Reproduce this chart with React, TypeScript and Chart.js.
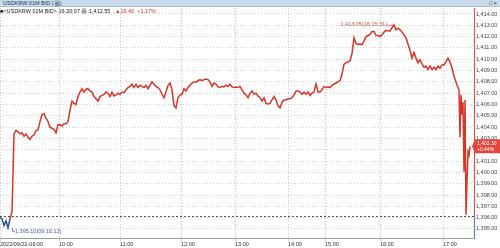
import React, { useEffect, useRef } from "react";
import { Chart, registerables } from "chart.js";

Chart.register(...registerables);

// ---- data ----
// prices sampled every 2 tick-steps from the session open
const BODY_PRICES = [
  1396.0, 1395.9, 1395.3, 1395.7, 1395.1, 1395.9, 1396.5, 1403.4, 1403.7, 1403.6,
  1403.4, 1403.5, 1403.2, 1403.4, 1403.1, 1402.9, 1403.2, 1403.3, 1403.7, 1403.75,
  1404.5, 1405.1, 1405.2, 1404.8, 1404.5, 1404.0, 1403.9, 1403.8, 1403.5, 1404.2,
  1404.2, 1404.1, 1404.3, 1404.3, 1404.5, 1405.5, 1406.3, 1406.1, 1406.0, 1406.7,
  1407.1, 1407.4, 1407.1, 1407.35, 1407.4, 1407.2, 1407.1, 1406.7, 1406.5, 1406.3,
  1406.7, 1406.8, 1406.9, 1407.1, 1407.0, 1406.7, 1407.1, 1406.75, 1406.85, 1407.0,
  1406.9, 1407.1, 1407.05, 1407.3, 1407.5, 1407.6, 1407.8, 1407.5, 1407.8, 1407.5,
  1407.7, 1407.6, 1407.5, 1407.7, 1407.4, 1407.7, 1408.0, 1407.8, 1407.6, 1407.5,
  1407.3, 1406.9, 1406.6, 1407.1, 1407.7, 1407.9, 1407.3, 1405.9, 1405.7, 1406.6,
  1406.85, 1406.9, 1407.4, 1407.2, 1407.5, 1407.7, 1407.9, 1408.0, 1408.0, 1408.1,
  1408.2, 1408.1, 1408.2, 1408.25, 1408.2, 1408.0, 1407.6, 1407.9, 1407.8, 1407.55,
  1407.5, 1407.6, 1407.55, 1407.7, 1407.6, 1407.8, 1407.55, 1407.5, 1407.55, 1407.5,
  1407.6, 1407.3, 1407.0, 1406.85, 1406.6, 1407.0, 1407.2, 1406.9, 1407.0, 1406.75,
  1406.6, 1406.3, 1406.6, 1406.1, 1406.05, 1406.1, 1406.4, 1406.7, 1406.4, 1405.9,
  1405.7, 1406.2, 1406.4, 1406.4, 1406.5, 1406.5, 1406.6, 1406.85, 1407.2, 1407.2,
  1407.1, 1406.9, 1407.1, 1406.9, 1407.1, 1406.8, 1407.0, 1407.1, 1407.8, 1407.1,
  1407.1, 1407.3, 1407.6, 1407.5, 1407.55, 1407.5, 1407.7, 1407.8, 1407.9, 1408.0,
  1408.1, 1408.7, 1409.55, 1409.7, 1409.75, 1409.85, 1410.5, 1411.9, 1411.4, 1411.3,
  1411.35, 1411.3, 1411.6, 1412.0, 1412.1, 1412.2, 1412.45, 1412.45, 1412.1, 1412.1,
  1412.0, 1412.15, 1412.4, 1412.55, 1412.5, 1412.5, 1412.8, 1413.05, 1412.6, 1412.75,
  1412.6, 1412.4, 1412.15, 1411.9, 1411.35, 1410.8, 1410.1, 1410.6, 1410.1, 1409.7,
  1409.95, 1409.6, 1409.3, 1409.4, 1409.1, 1409.4, 1409.1, 1409.3, 1409.1, 1409.4,
  1409.2, 1409.5, 1409.5, 1409.8, 1410.1, 1409.75, 1409.2, 1408.5,
];
const BODY_STEP = 2;
// last, very volatile stretch: one value per tick-step
const TAIL_PRICES = [
  1408.0, 1407.7, 1407.5, 1407.3, 1403.1, 1406.85, 1405.1, 1406.2, 1400.05, 1406.4,
  1396.25, 1399.2, 1401.8, 1401.55, 1402.3,
];
const AXIS_END = 474;

const TICK_POS = [0, 59, 120, 181, 235, 288, 325, 380, 443];
const TICK_LABELS = ["2022/09/22-09:00", "10:00", "11:00", "12:00", "13:00", "14:00", "15:00", "16:00", "17:00"];
const Y_TICKS = [1395, 1396, 1397, 1398, 1399, 1400, 1401, 1402, 1403, 1404, 1405, 1406, 1407, 1408, 1409, 1410, 1411, 1412, 1413, 1414];
const Y_MIN = 1394.2;
const Y_MAX = 1414.53;

const PREV_CLOSE = 1396.15;
const LAST_PRICE = 1402.3;
const LAST_PCT = "+0.44%";
const HIGH_PRICE = 1413.05;
const HIGH_TIME = "16:15:31";
const LOW_PRICE = 1395.1;
const LOW_TIME = "09:16:13";

const RED = "#da3429";
const BLUE = "#2d4f9c";
const FONT = '"Liberation Sans", Arial, sans-serif';

const fmt = (v: number) =>
  v.toLocaleString("en-US", { minimumFractionDigits: 2, maximumFractionDigits: 2 });

function buildPoints() {
  const pts: { x: number; y: number }[] = [];
  BODY_PRICES.forEach((p, i) => pts.push({ x: i * BODY_STEP, y: p }));
  const start = BODY_PRICES.length * BODY_STEP;
  TAIL_PRICES.forEach((p, i) => pts.push({ x: start + i, y: p }));
  return pts;
}

const overlayPlugin = {
  id: "overlay",
  beforeDatasetsDraw(chart: any) {
    const { ctx, chartArea, scales } = chart;
    const y = scales.y.getPixelForValue(PREV_CLOSE);
    ctx.save();
    ctx.strokeStyle = "#555";
    ctx.lineWidth = 1;
    ctx.setLineDash([2, 2]);
    ctx.beginPath();
    ctx.moveTo(chartArea.left, Math.round(y) + 0.5);
    ctx.lineTo(chartArea.right, Math.round(y) + 0.5);
    ctx.stroke();
    ctx.restore();
  },
  afterDatasetsDraw(chart: any) {
    const { ctx, chartArea, scales } = chart;
    const pts = chart.data.datasets[0].data as { x: number; y: number }[];
    const yBase = scales.y.getPixelForValue(PREV_CLOSE);
    ctx.save();
    // right border, coloured by side of previous close
    const rx = Math.round(chartArea.right) + 0.5;
    ctx.lineWidth = 1.2;
    ctx.strokeStyle = "#d9534f";
    ctx.beginPath();
    ctx.moveTo(rx, chartArea.top);
    ctx.lineTo(rx, yBase);
    ctx.stroke();
    ctx.strokeStyle = "#5b7fb5";
    ctx.beginPath();
    ctx.moveTo(rx, yBase);
    ctx.lineTo(rx, chartArea.bottom);
    ctx.stroke();

    ctx.font = `5.5px ${FONT}`;
    ctx.textBaseline = "middle";
    // high annotation
    const hi = pts.reduce((a, b) => (b.y > a.y ? b : a));
    const hx = scales.x.getPixelForValue(hi.x);
    const hy = scales.y.getPixelForValue(HIGH_PRICE);
    ctx.strokeStyle = "#c8564c";
    ctx.fillStyle = "#c8564c";
    ctx.lineWidth = 0.8;
    ctx.beginPath();
    ctx.moveTo(hx - 7, hy + 0.5);
    ctx.lineTo(hx - 1, hy + 0.5);
    ctx.stroke();
    ctx.textAlign = "right";
    ctx.fillText(`${fmt(HIGH_PRICE)}(${HIGH_TIME})`, hx - 7, hy);

    // low annotation
    const lo = pts.reduce((a, b) => (b.y < a.y ? b : a));
    const lx = scales.x.getPixelForValue(lo.x) + 4;
    const ly = scales.y.getPixelForValue(LOW_PRICE);
    ctx.strokeStyle = "#4a6aa8";
    ctx.fillStyle = "#3d5fa3";
    ctx.beginPath();
    ctx.moveTo(lx + 0.5, ly);
    ctx.lineTo(lx + 0.5, ly + 3.5);
    ctx.lineTo(lx + 3, ly + 3.5);
    ctx.stroke();
    ctx.textAlign = "left";
    ctx.fillText(`${fmt(LOW_PRICE)}(${LOW_TIME})`, lx + 3, ly + 3.5);

    // last price box
    const py = scales.y.getPixelForValue(LAST_PRICE);
    const bx = chartArea.right;
    ctx.fillStyle = "#e0463e";
    ctx.beginPath();
    ctx.moveTo(bx - 2, py);
    ctx.lineTo(bx + 1, py - 7);
    ctx.lineTo(chart.width, py - 7);
    ctx.lineTo(chart.width, py + 7);
    ctx.lineTo(bx + 1, py + 7);
    ctx.closePath();
    ctx.fill();
    ctx.fillStyle = "#fff";
    ctx.textAlign = "left";
    ctx.font = `5px ${FONT}`;
    ctx.fillText(fmt(LAST_PRICE), bx + 3, py - 3);
    ctx.fillText(LAST_PCT, bx + 3, py + 3.5);
    ctx.restore();
  },
};

export default function App() {
  const ref = useRef<HTMLCanvasElement | null>(null);

  useEffect(() => {
    if (!ref.current) return;
    const chart = new Chart(ref.current, {
      type: "line",
      data: {
        datasets: [
          {
            data: buildPoints(),
            borderColor: RED,
            borderWidth: 1.5,
            pointRadius: 0,
            tension: 0,
            segment: {
              borderColor: (c: any) =>
                c.p0.parsed.y < PREV_CLOSE && c.p1.parsed.y < PREV_CLOSE ? BLUE : RED,
            },
          },
        ],
      },
      options: {
        animation: false,
        responsive: false,
        devicePixelRatio: 1,
        layout: { padding: { top: 8, left: 0, right: 0, bottom: 0 } },
        plugins: { legend: { display: false }, tooltip: { enabled: false } },
        scales: {
          x: {
            type: "linear",
            position: "bottom",
            min: 0,
            max: AXIS_END,
            afterBuildTicks: (s: any) => {
              s.ticks = TICK_POS.map((v) => ({ value: v }));
            },
            afterFit: (s: any) => {
              s.height = 10;
              s.paddingLeft = 0;
              s.paddingRight = 0;
            },
            ticks: {
              autoSkip: false,
              maxRotation: 0,
              minRotation: 0,
              align: "start",
              padding: 0,
              color: "#333",
              font: { size: 5.5, family: FONT },
              callback: (v: any) => {
                const i = TICK_POS.indexOf(Number(v));
                return i >= 0 ? TICK_LABELS[i] : "";
              },
            },
            grid: { color: "#c9c9c9", lineWidth: 1, drawTicks: true, tickLength: 3 },
            border: { display: true, color: "#9a9a9a", width: 1, dash: [1, 2] },
          },
          y: {
            type: "linear",
            position: "right",
            min: Y_MIN,
            max: Y_MAX,
            afterBuildTicks: (s: any) => {
              s.ticks = Y_TICKS.map((v) => ({ value: v }));
            },
            afterFit: (s: any) => {
              s.width = 26;
            },
            ticks: {
              padding: 2,
              color: "#444",
              font: { size: 5.5, family: FONT },
              callback: (v: any) => fmt(Number(v)),
            },
            grid: { color: "#cfcfcf", lineWidth: 1, drawTicks: false },
            border: { display: false, dash: [1, 2] },
          },
        },
      },
      plugins: [overlayPlugin],
    } as any);
    return () => chart.destroy();
  }, []);

  return (
    <div
      style={{
        position: "fixed",
        left: 0,
        top: 0,
        width: 500,
        height: 248,
        background: "#fff",
        fontFamily: FONT,
        overflow: "hidden",
      }}
    >
      <canvas ref={ref} width={500} height={248} style={{ position: "absolute", left: 0, top: 0 }} />
      <div
        style={{
          position: "absolute",
          left: 0,
          top: 0,
          width: 500,
          height: 7,
          boxSizing: "border-box",
          background: "#c9dbec",
          borderBottom: "1px solid #a9bfd4",
          fontSize: 5.5,
          lineHeight: "6px",
          color: "#1f3358",
          paddingLeft: 3,
          whiteSpace: "nowrap",
        }}
      >
        USDKRW 01M BID (원)
        <span style={{ position: "absolute", right: 3, top: 0, color: "#333" }}>□ ×</span>
      </div>
      <div
        style={{
          position: "absolute",
          left: 0,
          top: 8,
          fontSize: 5.5,
          lineHeight: "6px",
          color: "#222",
          whiteSpace: "nowrap",
        }}
      >
        ■&lt;USDKRW 01M BID&gt; 16:20:07 종:1,412.55{" "}
        <span style={{ color: RED, marginLeft: 3 }}>▲16.40</span>
        <span style={{ color: RED, marginLeft: 3 }}>+1.17%</span>
      </div>
    </div>
  );
}
